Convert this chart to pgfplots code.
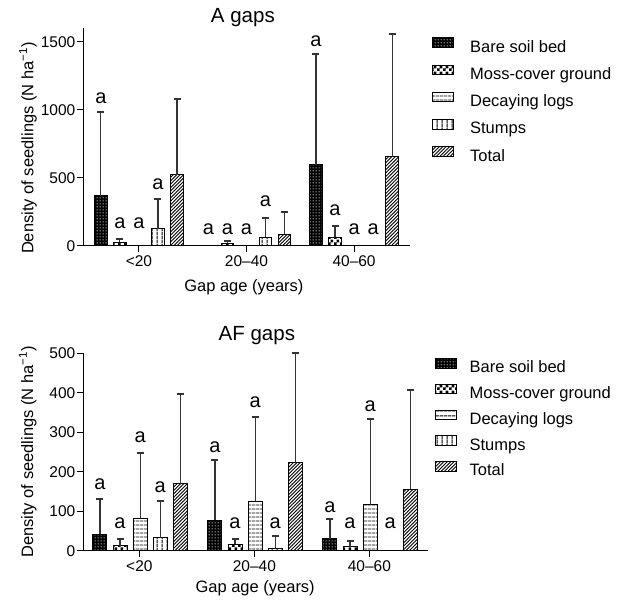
\documentclass[border=0pt]{standalone}
\usepackage{fontspec}
\setmainfont{Liberation Sans}
\usepackage{pgfplots}
\pgfplotsset{compat=1.18}
\usetikzlibrary{patterns}

% fill patterns of the five series
\pgfdeclarepatternformonly{wdots}{\pgfqpoint{0bp}{0bp}}{\pgfqpoint{2.6bp}{2.6bp}}{\pgfqpoint{2.6bp}{2.6bp}}{%
  \pgfpathcircle{\pgfqpoint{1.3bp}{1.3bp}}{0.65bp}\pgfusepath{fill}}
\pgfdeclarepatternformonly{checker}{\pgfqpoint{0bp}{0bp}}{\pgfqpoint{5.6bp}{5.6bp}}{\pgfqpoint{5.6bp}{5.6bp}}{%
  \pgfpathrectangle{\pgfqpoint{0bp}{0bp}}{\pgfqpoint{2.8bp}{2.8bp}}%
  \pgfpathrectangle{\pgfqpoint{2.8bp}{2.8bp}}{\pgfqpoint{2.8bp}{2.8bp}}\pgfusepath{fill}}
\pgfdeclarepatternformonly{hlines}{\pgfqpoint{0bp}{0bp}}{\pgfqpoint{4bp}{4.4bp}}{\pgfqpoint{4bp}{4.4bp}}{%
  \pgfsetlinewidth{1bp}\pgfpathmoveto{\pgfqpoint{-0.1bp}{2.2bp}}\pgfpathlineto{\pgfqpoint{4.1bp}{2.2bp}}\pgfusepath{stroke}}
\pgfdeclarepatternformonly{vlines}{\pgfqpoint{0bp}{0bp}}{\pgfqpoint{5bp}{4bp}}{\pgfqpoint{5bp}{4bp}}{%
  \pgfsetlinewidth{1bp}\pgfpathmoveto{\pgfqpoint{2.5bp}{-0.1bp}}\pgfpathlineto{\pgfqpoint{2.5bp}{4.1bp}}\pgfusepath{stroke}}
\pgfdeclarepatternformonly{diag}{\pgfqpoint{-1bp}{-1bp}}{\pgfqpoint{4.5bp}{4.5bp}}{\pgfqpoint{3.4bp}{3.4bp}}{%
  \pgfsetlinewidth{0.9bp}\pgfpathmoveto{\pgfqpoint{0bp}{0bp}}\pgfpathlineto{\pgfqpoint{3.5bp}{3.5bp}}\pgfusepath{stroke}}

\tikzset{
  bare/.style={draw=black, line width=1bp, fill=black, postaction={pattern=wdots, pattern color=white}},
  moss/.style={draw=black, line width=1bp, fill=white, postaction={pattern=checker}},
  decay/.style={draw=black, line width=1bp, fill=white, postaction={pattern=hlines}},
  stumps/.style={draw=black, line width=1bp, fill=white, postaction={pattern=vlines}},
  total/.style={draw=black, line width=1bp, fill=white, postaction={pattern=diag}},
}

\newcommand\fT{\fontsize{15.5bp}{18bp}\selectfont}
\newcommand\fL{\fontsize{16.5bp}{19bp}\selectfont}
\newcommand\fTi{\fontsize{20.5bp}{24bp}\selectfont}
\newcommand\fA{\fontsize{20bp}{24bp}\selectfont}

\pgfplotsset{panel/.style={
  scale only axis, clip=false,
  ybar, bar shift=0pt,
  axis x line=bottom, axis y line=left,
  axis line style={-, line width=1bp, black},
  tick align=outside, major tick length=6bp,
  tick style={line width=1bp, black},
  xtick={0,1,2}, xticklabels={<20,20--40,40--60},
  ticklabel style={font=\fT},
  yticklabel style={inner xsep=1.5bp},
  /pgf/number format/assume math mode=true,
  /pgf/number format/1000 sep={},
  label style={font=\fL},
  title style={font=\fTi, anchor=center, yshift=0pt},
  ymin=0,
  error bars/y dir=plus, error bars/y explicit,
  error bars/error bar style={line width=1.2bp, black!80},
  error bars/error mark options={rotate=90, line width=2bp, mark size=3.5bp, black!80},
  legend cell align=left,
  legend image code/.code={\draw[##1] (0bp,0.5bp) rectangle (21bp,10bp);},
  legend style={draw=none, fill=none, inner sep=0pt, font=\fL,
    nodes={inner sep=0pt, text height=12bp, text depth=3.5bp}},
  every node near coord/.append style={font=\fA, inner sep=0pt, black},
}}

\begin{document}
\begin{tikzpicture}
\useasboundingbox (0,0) rectangle (629bp,603bp);

% ---- A gaps ----
\begin{axis}[panel, at={(83bp,357bp)}, anchor=south west,
  width=327bp, height=217.6bp,
  xmin=-0.52, xmax=2.52, ymax=1600, ytick={0,500,1000,1500},
  bar width=0.118,
  title={A gaps}, title style={at={(axis description cs:0.489,1.020)}},
  xlabel={Gap age (years)}, xlabel style={at={(axis description cs:0.492,-0.188)}, anchor=center},
  ylabel={Density of seedlings (N ha\textsuperscript{−1})},
  ylabel style={at={(axis description cs:-0.168,0.45)}, anchor=center},
  legend style={at={(axis description cs:1.067,0.96)}, anchor=north west, row sep=9bp,
    /tikz/every odd column/.append style={column sep=16bp}},
]
\addplot[bare] coordinates {(-0.354,368) +- (0,620) (1.646,596) +- (0,819)};
\addlegendentry{Bare soil bed}
\addplot[moss] coordinates {(-0.177,27) +- (0,22) (0.823,20) +- (0,19) (1.823,64) +- (0,81)};
\addlegendentry{Moss-cover ground}
\addlegendimage{decay}
\addlegendentry{Decaying logs}
\addplot[stumps] coordinates {(0.177,127) +- (0,219) (1.177,64) +- (0,144)};
\addlegendentry{Stumps}
\addplot[total] coordinates {(0.354,524) +- (0,555) (1.354,86) +- (0,162) (2.354,657) +- (0,905)};
\addlegendentry{Total}
\addplot[sharp plot, draw=none, mark=none, nodes near coords={a}, error bars/y dir=none, forget plot]
  coordinates {(-0.354,1043) (-0.177,124) (0,124) (0.177,411)
               (0.646,80) (0.823,80) (1,80) (1.177,286)
               (1.646,1462) (1.823,219) (2,80) (2.177,80)};
\end{axis}

% ---- AF gaps ----
\begin{axis}[panel, at={(83bp,52.3bp)}, anchor=south west,
  width=345bp, height=197.4bp,
  xmin=-0.49, xmax=2.51, ymax=500, ytick={0,100,...,500},
  bar width=0.122,
  title={AF gaps}, title style={at={(axis description cs:0.504,1.062)}},
  xlabel={Gap age (years)}, xlabel style={at={(axis description cs:0.499,-0.189)}, anchor=center},
  ylabel={Density of seedlings (N ha\textsuperscript{−1})},
  ylabel style={at={(axis description cs:-0.16,0.50)}, anchor=center},
  legend style={at={(axis description cs:1.02,0.976)}, anchor=north west, row sep=7.5bp,
    /tikz/every odd column/.append style={column sep=12.5bp}},
]
\addplot[bare] coordinates {(-0.343,42) +- (0,89) (0.657,77) +- (0,153) (1.657,30) +- (0,51)};
\addlegendentry{Bare soil bed}
\addplot[moss] coordinates {(-0.168,12) +- (0,18) (0.832,16) +- (0,14) (1.832,10) +- (0,15)};
\addlegendentry{Moss-cover ground}
\addplot[decay] coordinates {(0.007,82) +- (0,166) (1.007,125) +- (0,214) (2.007,116) +- (0,218)};
\addlegendentry{Decaying logs}
\addplot[stumps] coordinates {(0.182,33) +- (0,92) (1.182,6) +- (0,31)};
\addlegendentry{Stumps}
\addplot[total] coordinates {(0.357,170) +- (0,227) (1.357,223) +- (0,277) (2.357,156) +- (0,252)};
\addlegendentry{Total}
\addplot[sharp plot, draw=none, mark=none, nodes near coords={a}, error bars/y dir=none, forget plot]
  coordinates {(-0.343,153) (-0.168,55) (0.007,272) (0.182,147)
               (0.657,248) (0.832,55) (1.007,361) (1.182,55)
               (1.657,95) (1.832,55) (2.007,351) (2.182,55)};
\end{axis}
\end{tikzpicture}
\end{document}
